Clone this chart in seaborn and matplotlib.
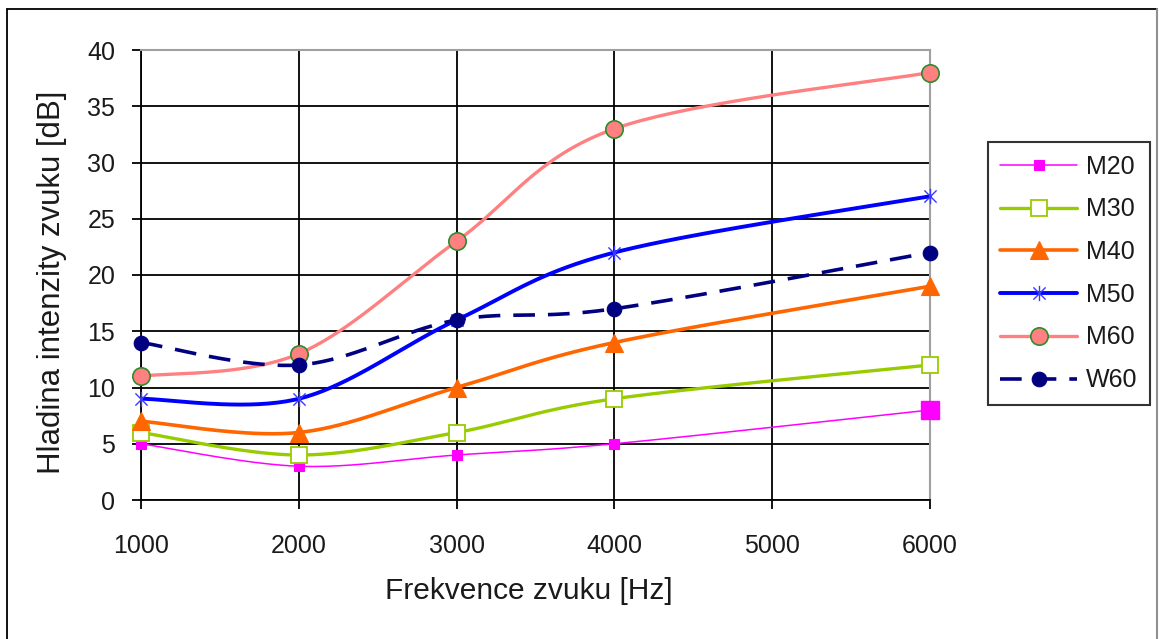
import numpy as np
import pandas as pd
import seaborn as sns
import matplotlib
matplotlib.use("Agg")
import matplotlib.pyplot as plt
from matplotlib.lines import Line2D
from matplotlib.path import Path

# Measured hearing levels per frequency
frequencies = [1000, 2000, 3000, 4000, 6000]
series_names = ["M20", "M30", "M40", "M50", "M60", "W60"]
m20 = [5, 3, 4, 5, 8]
m30 = [6, 4, 6, 9, 12]
m40 = [7, 6, 10, 14, 19]
m50 = [9, 9, 16, 22, 27]
m60 = [11, 13, 23, 33, 38]
w60 = [14, 12, 16, 17, 22]
y_ticks = [0, 5, 10, 15, 20, 25, 30, 35, 40]
x_ticks = [1000, 2000, 3000, 4000, 5000, 6000]

values = {"M20": m20, "M30": m30, "M40": m40, "M50": m50, "M60": m60, "W60": w60}

sns.set_style("white")
plt.rcParams["font.family"] = ["Liberation Sans", "DejaVu Sans"]

# Excel-like asterisk: vertical bar plus a diagonal cross
star = Path([(0, -1), (0, 1), (-0.8, -0.8), (0.8, 0.8), (-0.8, 0.8), (0.8, -0.8)],
            [Path.MOVETO, Path.LINETO, Path.MOVETO, Path.LINETO, Path.MOVETO, Path.LINETO])

styles = {
    "M20": dict(color="#FF00FF", lw=1.1, marker="s", ms=6.5, mfc="#FF00FF", mec="#FF00FF", mew=0.8, ls="-"),
    "M30": dict(color="#99CC00", lw=2.4, marker="s", ms=11.5, mfc="white", mec="#99CC00", mew=1.3, ls="-"),
    "M40": dict(color="#FF6600", lw=2.6, marker="^", ms=13.5, mfc="#FF6600", mec="#FF6600", mew=0.8, ls="-"),
    "M50": dict(color="#0000FF", lw=2.8, marker=star, ms=11, mfc="none", mec="#3A3AFF", mew=1.0, ls="-"),
    "M60": dict(color="#FF8080", lw=2.4, marker="o", ms=12.5, mfc="#FF8080", mec="#2E8B2E", mew=1.2, ls="-"),
    "W60": dict(color="#000080", lw=2.6, marker="o", ms=10.5, mfc="#000080", mec="#000080", mew=0.8, ls=(0, (6, 3.6))),
}


def smooth(xs, ys, n=40):
    """Excel-style smoothed line: cubic Bezier segments with Catmull-Rom handles."""
    pts = np.column_stack([xs, ys]).astype(float)
    ext = np.vstack([pts[0], pts, pts[-1]])
    out = [pts[:1]]
    t = np.linspace(0, 1, n)[1:, None]
    for i in range(len(pts) - 1):
        p0, p3 = ext[i + 1], ext[i + 2]
        c1 = p0 + (ext[i + 2] - ext[i]) / 6.0
        c2 = p3 - (ext[i + 3] - ext[i + 1]) / 6.0
        seg = ((1 - t) ** 3) * p0 + 3 * ((1 - t) ** 2) * t * c1 + 3 * (1 - t) * t ** 2 * c2 + t ** 3 * p3
        out.append(seg)
    curve = np.vstack(out)
    return curve[:, 0], curve[:, 1]


W, H = 1159, 639
fig = plt.figure(figsize=(W / 100, H / 100), dpi=100)
ax = fig.add_axes([141 / W, 1 - 500 / H, (930 - 141) / W, 450 / H])

handles = []
for k, name in enumerate(series_names):
    st = styles[name]
    sx, sy = smooth(frequencies, values[name])
    curve = pd.DataFrame({"f": sx, "db": sy})
    sns.lineplot(data=curve, x="f", y="db", ax=ax, sort=False, estimator=None,
                 color=st["color"], lw=st["lw"], linestyle=st["ls"], zorder=3 + k)
    pts = pd.DataFrame({"f": frequencies, "db": values[name]})
    ax.plot(pts["f"], pts["db"], ls="none", marker=st["marker"], ms=st["ms"],
            mfc=st["mfc"], mec=st["mec"], mew=st["mew"], zorder=3.5 + k, clip_on=False)
    handles.append(Line2D([], [], color=st["color"], lw=st["lw"], linestyle=st["ls"],
                          marker=st["marker"], ms=st["ms"], mfc=st["mfc"], mec=st["mec"],
                          mew=st["mew"], label=name))

# the last M20 reading is drawn with a larger square
ax.plot(frequencies[-1:], m20[-1:], ls="none", marker="s", ms=13, mfc="#FF00FF",
        mec="#FF00FF", zorder=3.6, clip_on=False)

ax.set_xlim(1000, 6000)
ax.set_ylim(0, 40)
ax.set_xticks(x_ticks)
ax.set_yticks(y_ticks)
ax.grid(True, color="black", lw=1.3)
ax.set_axisbelow(True)
for side in ["left", "bottom"]:
    ax.spines[side].set_color("black")
    ax.spines[side].set_linewidth(1.3)
for side in ["top", "right"]:
    ax.spines[side].set_color("#A0A0A0")
    ax.spines[side].set_linewidth(1.5)

ax.tick_params(axis="both", direction="out", length=6.5, width=1.3, color="black",
               labelcolor="#1A1A1A", labelsize=18)
ax.tick_params(axis="y", pad=12)
ax.tick_params(axis="x", pad=18)
ax.tick_params(left=True, bottom=True)

ax.set_xlabel("Frekvence zvuku [Hz]", fontsize=21.5, color="#1A1A1A")
ax.set_ylabel("Hladina intenzity zvuku [dB]", fontsize=22.5, color="#1A1A1A")
ax.xaxis.set_label_coords(0.491, -0.172)
ax.yaxis.set_label_coords(-0.094, 0.484)

leg = ax.legend(handles=handles, loc="upper left", bbox_to_anchor=(988 / W, 1 - 142 / H),
                bbox_transform=fig.transFigure, borderaxespad=0, fontsize=18,
                frameon=True, fancybox=False, shadow=False, borderpad=0.5,
                labelspacing=0.75, handlelength=3.05, handletextpad=0.35)
leg.get_frame().set_edgecolor("black")
leg.get_frame().set_linewidth(1.5)
for t in leg.get_texts():
    t.set_color("#1A1A1A")

# outer chart-area border
fig.add_artist(Line2D([7 / W, 7 / W], [0, 1 - 9 / H], transform=fig.transFigure, color="black", lw=1.3))
fig.add_artist(Line2D([7 / W, 1157 / W], [1 - 9 / H, 1 - 9 / H], transform=fig.transFigure, color="black", lw=1.3))
fig.add_artist(Line2D([1157 / W, 1157 / W], [0, 1 - 9 / H], transform=fig.transFigure, color="#909090", lw=1.5))

fig.savefig("out.png", dpi=100, facecolor="white")
